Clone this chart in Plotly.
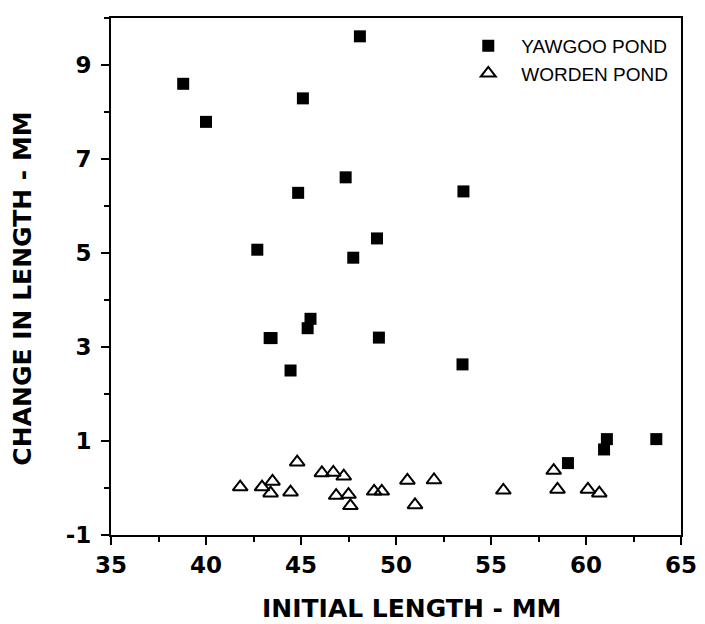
import plotly.graph_objects as go

# ---- data ----
yawgoo_x = [48.1, 38.8, 45.1, 40.0, 47.35, 44.85, 49.0, 42.7, 47.75, 45.5, 45.35,
            43.35, 43.45, 49.1, 44.45, 53.55, 53.5, 59.05, 61.1, 60.95, 63.7]
yawgoo_y = [9.61, 8.60, 8.29, 7.79, 6.61, 6.28, 5.31, 5.07, 4.90, 3.60, 3.40,
            3.19, 3.19, 3.20, 2.50, 6.31, 2.63, 0.53, 1.04, 0.82, 1.04]

worden_x = [41.8, 42.95, 43.5, 43.4, 44.45, 44.8, 46.1, 46.7, 47.25, 46.85, 47.5,
            47.6, 48.85, 49.25, 50.6, 51.0, 52.0, 55.65, 58.3, 58.5, 60.1, 60.7]
worden_y = [0.02, 0.02, 0.14, -0.11, -0.09, 0.55, 0.32, 0.33, 0.25, -0.16, -0.14,
            -0.38, -0.07, -0.07, 0.16, -0.36, 0.17, -0.05, 0.37, -0.03, -0.03, -0.11]

x_tick_vals = [35, 40, 45, 50, 55, 60, 65]
x_tick_text = ["35", "40", "45", "50", "55", "60", "65"]
y_tick_vals = [-1, 1, 3, 5, 7, 9]
y_tick_text = ["-1", "1", "3", "5", "7", "9"]

series_names = ["YAWGOO POND", "WORDEN POND"]
x_title = "INITIAL LENGTH - MM"
y_title = "CHANGE IN LENGTH - MM"

# ---- figure ----
fig = go.Figure()
fig.add_trace(go.Scatter(
    x=yawgoo_x, y=yawgoo_y, mode="markers", name=series_names[0],
    marker=dict(symbol="square", size=12, color="black", line=dict(width=0)),
))
fig.add_trace(go.Scatter(
    x=worden_x, y=worden_y, mode="markers", name=series_names[1],
    marker=dict(symbol="triangle-up-open", size=13, color="black",
                line=dict(width=2, color="black")),
))

tick_font = dict(family="DejaVu Sans", size=23, color="black", weight="bold")
title_font = dict(family="DejaVu Sans", size=25, color="black", weight="bold")

fig.update_layout(
    width=697, height=616,
    margin=dict(l=103, r=21, t=8, b=89),
    paper_bgcolor="white", plot_bgcolor="white",
    showlegend=True,
    legend=dict(
        x=0.604, y=0.983, xanchor="left", yanchor="top",
        font=dict(family="Liberation Sans", size=19, color="black"),
        itemwidth=56, bgcolor="rgba(0,0,0,0)", borderwidth=0,
    ),
    xaxis=dict(
        range=[35, 65], showgrid=False, zeroline=False,
        showline=True, linecolor="black", linewidth=2, mirror=True,
        ticks="outside", ticklen=8, tickwidth=2, tickcolor="black",
        tickmode="array", tickvals=x_tick_vals, ticktext=x_tick_text,
        tickfont=tick_font,
        minor=dict(tickmode="linear", tick0=37.5, dtick=5, ticks="outside",
                   ticklen=5, tickwidth=2, tickcolor="black", showgrid=False),
    ),
    yaxis=dict(
        range=[-1, 10], showgrid=False, zeroline=False,
        showline=True, linecolor="black", linewidth=2, mirror=True,
        ticks="outside", ticklen=8, tickwidth=2, tickcolor="black",
        tickmode="array", tickvals=y_tick_vals, ticktext=y_tick_text,
        tickfont=tick_font, ticklabelstandoff=5,
        minor=dict(tickmode="linear", tick0=0, dtick=2, ticks="outside",
                   ticklen=5, tickwidth=2, tickcolor="black", showgrid=False),
    ),
    annotations=[
        dict(text=x_title, xref="paper", yref="paper", x=0.527, y=-0.1426,
             xanchor="center", yanchor="middle", showarrow=False,
             font=title_font),
        dict(text=y_title, xref="paper", yref="paper", x=-0.1545, y=0.4764,
             xanchor="center", yanchor="middle", showarrow=False, textangle=-90,
             font=title_font),
    ],
)

fig.write_html("out.html")
